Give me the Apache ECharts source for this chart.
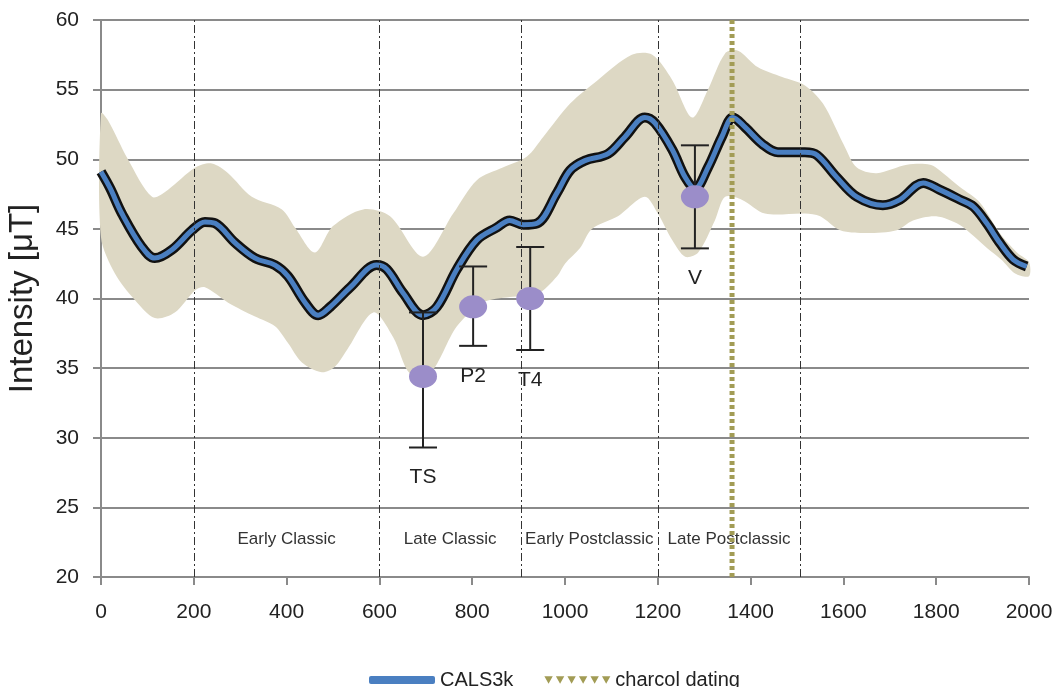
<!DOCTYPE html>
<html>
<head>
<meta charset="utf-8">
<script src="https://cdn.jsdelivr.net/npm/echarts@6/dist/echarts.min.js"></script>
<style>
html,body{margin:0;padding:0;background:#ffffff;}
#chart{width:1054px;height:687px;}
</style>
</head>
<body>
<div id="chart"></div>
<script>
// ---- CALS3k model curve ----
const curveYears  = [0, 20, 45, 88, 116, 153, 196, 224, 246, 289, 332, 375, 403, 440, 468, 494, 537, 594, 616, 651, 694, 724, 767, 810, 853, 881, 910, 940, 983, 1011, 1043, 1093, 1129, 1172, 1194, 1231, 1259, 1280, 1308, 1338, 1362, 1388, 1425, 1459, 1517, 1543, 1586, 1629, 1685, 1722, 1772, 1808, 1851, 1880, 1909, 1937, 1966, 1995];
const curveValues = [49.1, 47.9, 46.1, 43.7, 42.9, 43.5, 44.9, 45.5, 45.4, 44.0, 42.9, 42.4, 41.6, 39.7, 38.8, 39.4, 40.8, 42.4, 42.1, 40.4, 38.8, 39.4, 42.1, 44.2, 45.1, 45.6, 45.3, 45.4, 47.6, 49.2, 49.9, 50.4, 51.6, 53.0, 52.6, 50.7, 48.7, 47.9, 49.4, 51.6, 53.0, 52.3, 51.1, 50.5, 50.5, 50.3, 48.7, 47.3, 46.7, 47.1, 48.3, 47.8, 47.1, 46.6, 45.4, 44.0, 42.8, 42.3];

// ---- uncertainty envelope ----
const upperYears  = [0, 15, 58, 110, 144, 203, 239, 274, 325, 390, 418, 461, 500, 565, 623, 694, 759, 810, 866, 918, 953, 1011, 1071, 1144, 1188, 1231, 1274, 1308, 1345, 1373, 1416, 1468, 1517, 1556, 1600, 1629, 1672, 1737, 1787, 1815, 1851, 1894, 1937, 1974, 2000];
const upperValues = [53.3, 52.8, 50.0, 47.3, 47.8, 49.4, 49.7, 49.0, 47.3, 46.4, 45.1, 43.3, 45.2, 46.4, 45.9, 43.0, 46.1, 48.5, 49.4, 50.2, 51.6, 54.0, 55.7, 57.5, 57.5, 55.7, 53.0, 55.0, 57.6, 57.8, 56.6, 55.9, 55.3, 54.0, 51.1, 49.4, 49.0, 49.6, 49.6, 49.0, 48.0, 46.9, 44.7, 43.3, 42.6];
const lowerYears  = [0, 30, 73, 116, 159, 203, 224, 274, 332, 375, 403, 433, 476, 504, 530, 587, 630, 666, 709, 767, 823, 881, 940, 983, 1000, 1032, 1058, 1114, 1172, 1200, 1231, 1259, 1287, 1323, 1345, 1381, 1431, 1517, 1550, 1593, 1651, 1715, 1750, 1800, 1850, 1880, 1910, 1940, 1970, 2000];
const lowerValues = [44.4, 41.8, 39.9, 38.6, 39.0, 40.6, 40.8, 39.7, 38.7, 38.0, 36.8, 35.4, 34.7, 35.1, 36.3, 39.0, 37.2, 34.6, 34.6, 38.0, 39.7, 40.1, 40.3, 41.6, 42.5, 43.6, 45.0, 45.9, 47.3, 46.1, 44.2, 43.0, 43.3, 45.6, 47.3, 47.1, 46.1, 46.1, 45.9, 44.9, 44.7, 44.9, 45.6, 45.9, 45.3, 44.5, 43.6, 42.8, 41.8, 41.6];

// ---- archaeomagnetic samples ----
const sampleNames  = ['TS', 'P2', 'T4', 'V'];
const sampleYears  = [694, 802, 925, 1280];
const sampleValues = [34.4, 39.4, 40.0, 47.3];
const sampleLow    = [29.3, 36.6, 36.3, 43.6];
const sampleHigh   = [39.0, 42.3, 43.7, 51.0];

// ---- periods ----
const eraBounds = [200, 600, 905, 1200, 1507];
const eraNames  = ['Early Classic', 'Late Classic', 'Early Postclassic', 'Late Postclassic'];

// ---- charcoal dating ----
const charcoalYear = 1360;

const FONT = 'Liberation Sans, Arial, sans-serif';
const chart = echarts.init(document.getElementById('chart'), null, {renderer: 'canvas'});

const curveData = curveYears.map((y, i) => [y, curveValues[i]]);
const sampleData = sampleYears.map((y, i) => [y, sampleValues[i], sampleLow[i], sampleHigh[i], i]);

const eraAreas = eraNames.map((n, i) => [
  {name: n, xAxis: eraBounds[i], yAxis: 20},
  {xAxis: eraBounds[i + 1], yAxis: 25.4}
]);

const triPath = 'path://M0,0L8,0L4,7ZM11,0L19,0L15,7ZM22,0L30,0L26,7ZM33,0L41,0L37,7ZM44,0L52,0L48,7ZM55,0L63,0L59,7Z';

chart.setOption({
  animation: false,
  backgroundColor: '#ffffff',
  textStyle: {fontFamily: FONT},
  grid: {left: 101, right: 25, top: 20, bottom: 110, containLabel: false, outerBoundsMode: 'none'},
  legend: {
    left: 364, top: 665,
    itemWidth: 66, itemHeight: 8, itemGap: 31,
    selectedMode: false,
    textStyle: {fontSize: 20, color: '#222', fontFamily: FONT},
    data: [
      {name: 'CALS3k', icon: 'roundRect'},
      {name: 'charcol dating', icon: triPath}
    ]
  },
  xAxis: {
    type: 'value', min: 0, max: 2000, interval: 200,
    axisLine: {show: true, lineStyle: {color: '#8a8a8a', width: 2}},
    axisTick: {show: true, length: 8, lineStyle: {color: '#8a8a8a', width: 2}},
    splitLine: {show: false},
    axisLabel: {fontSize: 21, color: '#222', margin: 25, fontFamily: FONT,
                formatter: v => String(v)}
  },
  yAxis: {
    type: 'value', min: 20, max: 60, interval: 5,
    name: 'Intensity [μT]', nameLocation: 'middle', nameGap: 62,
    nameTextStyle: {fontSize: 33, color: '#222', fontFamily: FONT},
    axisLine: {show: true, lineStyle: {color: '#8a8a8a', width: 2}},
    axisTick: {show: true, length: 8, lineStyle: {color: '#8a8a8a', width: 2}},
    splitLine: {show: true, lineStyle: {color: '#8a8a8a', width: 2}},
    axisLabel: {fontSize: 21, color: '#222', margin: 22, fontFamily: FONT}
  },
  series: [
    {
      type: 'custom', name: 'envelope', silent: true, z: 1,
      data: [[0, 20]],
      renderItem: function (params, api) {
        const pts = [];
        for (let i = 0; i < upperYears.length; i++) pts.push(api.coord([upperYears[i], upperValues[i]]));
        for (let i = lowerYears.length - 1; i >= 0; i--) pts.push(api.coord([lowerYears[i], lowerValues[i]]));
        return {type: 'polygon', shape: {points: pts, smooth: 0.3}, style: {fill: '#ddd8c4'}};
      }
    },
    {
      type: 'line', name: 'periods', silent: true, z: 2,
      data: [],
      markLine: {
        silent: true, symbol: 'none', label: {show: false},
        lineStyle: {type: [8, 3, 2, 3], color: '#333', width: 1},
        data: eraBounds.map(b => ({xAxis: b}))
      },
      markArea: {
        silent: true,
        itemStyle: {color: 'rgba(0,0,0,0)'},
        label: {show: true, position: 'inside', fontSize: 17, color: '#333', fontFamily: FONT},
        data: eraAreas
      }
    },
    {
      type: 'line', name: 'outline', silent: true, z: 3,
      data: curveData, smooth: 0.35, symbol: 'none',
      lineStyle: {color: '#111', width: 10}
    },
    {
      type: 'line', name: 'CALS3k', z: 4,
      data: curveData, smooth: 0.35, symbol: 'none',
      color: '#4a7fc1',
      lineStyle: {color: '#4a7fc1', width: 5}
    },
    {
      type: 'line', name: 'charcol dating', z: 5,
      data: [[charcoalYear, 20], [charcoalYear, 60]], symbol: 'none',
      color: '#a29c55',
      lineStyle: {color: '#a29c55', width: 5, type: [4, 3]}
    },
    {
      type: 'custom', name: 'errorbars', silent: true, z: 6,
      data: sampleData,
      renderItem: function (params, api) {
        const x = api.value(0);
        const lo = api.coord([x, api.value(2)]);
        const hi = api.coord([x, api.value(3)]);
        const idx = api.value(4);
        const hw = 14;
        const ls = {stroke: '#222', lineWidth: 2};
        return {
          type: 'group',
          children: [
            {type: 'line', shape: {x1: lo[0], y1: lo[1], x2: hi[0], y2: hi[1]}, style: ls},
            {type: 'line', shape: {x1: lo[0] - hw, y1: lo[1], x2: lo[0] + hw, y2: lo[1]}, style: ls},
            {type: 'line', shape: {x1: hi[0] - hw, y1: hi[1], x2: hi[0] + hw, y2: hi[1]}, style: ls},
            {type: 'text', x: lo[0], y: lo[1] + 30,
             style: {text: sampleNames[idx], fill: '#222', fontSize: 21, fontFamily: FONT, align: 'center', verticalAlign: 'middle'}}
          ]
        };
      }
    },
    {
      type: 'scatter', name: 'samples', silent: true, z: 7,
      data: sampleData.map(d => [d[0], d[1]]),
      symbol: 'circle', symbolSize: [28, 23],
      itemStyle: {color: '#9b8dc9', opacity: 1}
    }
  ]
});
</script>
</body>
</html>
